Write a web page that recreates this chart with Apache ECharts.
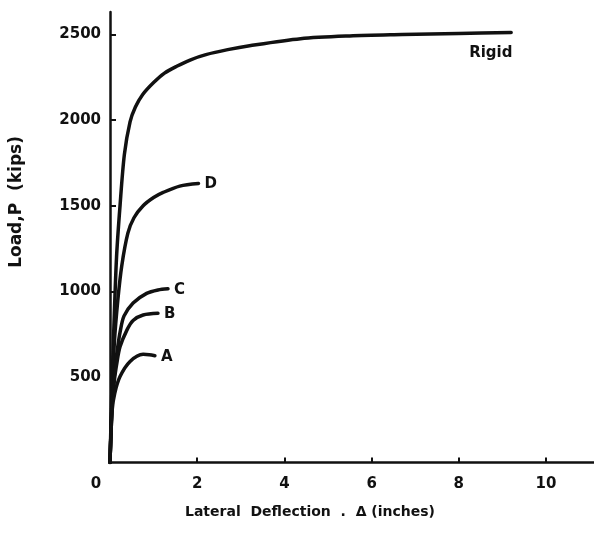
<!DOCTYPE html>
<html><head><meta charset="utf-8">
<script src="https://cdn.jsdelivr.net/npm/echarts@6/dist/echarts.min.js"></script>
<style>html,body{margin:0;padding:0;background:#fff}#c{width:594px;height:535px}</style>
</head><body><div id="c"></div>
<script>
// Data: [lateral deflection (in), load (kips)]
const rigid = [[0,0],[0.04,400],[0.09,800],[0.15,1200],[0.23,1500],[0.33,1800],[0.46,1990],[0.58,2075],[0.75,2150],[1.0,2220],[1.25,2275],[1.53,2315],[1.85,2353],[2.2,2383],[2.7,2412],[3.2,2435],[4.37,2476],[5.5,2492],[6.7,2500],[8.0,2507],[9.2,2512]];
const curveD = [[0,0],[0.05,400],[0.1,700],[0.18,950],[0.27,1150],[0.41,1340],[0.55,1430],[0.76,1500],[1.0,1548],[1.22,1578],[1.6,1615],[2.03,1630]];
const curveC = [[0,0],[0.05,350],[0.12,560],[0.18,680],[0.23,760],[0.32,855],[0.53,932],[0.84,988],[1.1,1008],[1.33,1015]];
const curveB = [[0,0],[0.05,330],[0.1,480],[0.16,585],[0.23,676],[0.39,775],[0.53,830],[0.76,862],[1.1,872]];
const curveA = [[0,0],[0.05,307],[0.11,406],[0.23,502],[0.46,590],[0.76,632],[0.9,630],[1.03,624]];
const seriesNames = ['Rigid','D','C','B','A'];
const xTicks = [0,2,4,6,8,10];
const yTicks = [500,1000,1500,2000,2500];

const font = '"DejaVu Sans", sans-serif';
const chart = echarts.init(document.getElementById('c'), null, {renderer:'canvas'});
const datasets = [rigid, curveD, curveC, curveB, curveA];
const series = datasets.map((d,i)=>({
  type:'line', name:seriesNames[i], data:d, showSymbol:false, smooth:0.3,
  lineStyle:{color:'#111', width:3.5, cap:'round', join:'round'},
  endLabel:{show:true, formatter:seriesNames[i], color:'#111', fontFamily:font, fontWeight:'bold', fontSize:15,
    distance:6, offset: i===0 ? [-48,21] : [0,1]},
  animation:false
}));
chart.setOption({
  backgroundColor:'#fff',
  animation:false,
  grid:{left:110, right:0, top:12, bottom:72.5, containLabel:false},
  xAxis:{type:'value', min:0, max:11.1, interval:2,
    axisLine:{show:true, lineStyle:{color:'#111', width:2.5}},
    axisTick:{show:true, inside:true, length:5, lineStyle:{color:'#111', width:2}},
    splitLine:{show:false},
    axisLabel:{showMaxLabel:false, margin:14, color:'#111', fontFamily:font, fontWeight:'bold', fontSize:15,
      formatter:v=> v===0 ? '{z|0}' : (xTicks.includes(v)? String(v):''),
      rich:{z:{padding:[0,28,0,0], color:'#111', fontFamily:font, fontWeight:'bold', fontSize:15}}},
    name:'Lateral  Deflection  .  Δ (inches)', nameLocation:'middle', nameGap:43,
    nameTextStyle:{color:'#111', fontFamily:font, fontWeight:'bold', fontSize:14, padding:[0,84,0,0]}
  },
  yAxis:{type:'value', min:0, max:2632, interval:500,
    axisLine:{show:true, lineStyle:{color:'#111', width:2.5}},
    axisTick:{show:true, inside:true, length:6, lineStyle:{color:'#111', width:2}},
    splitLine:{show:false},
    axisLabel:{showMaxLabel:false, showMinLabel:false, margin:9, color:'#111', fontFamily:font, fontWeight:'bold', fontSize:15,
      formatter:v=> yTicks.includes(v)? String(v):''}
  },
  graphic:[{type:'text', left:8, top:136, rotation:Math.PI/2,
    style:{text:'Load,P  (kips)', fill:'#111', font:'bold 17px "DejaVu Sans", sans-serif'}}],
  series
});
</script></body></html>
